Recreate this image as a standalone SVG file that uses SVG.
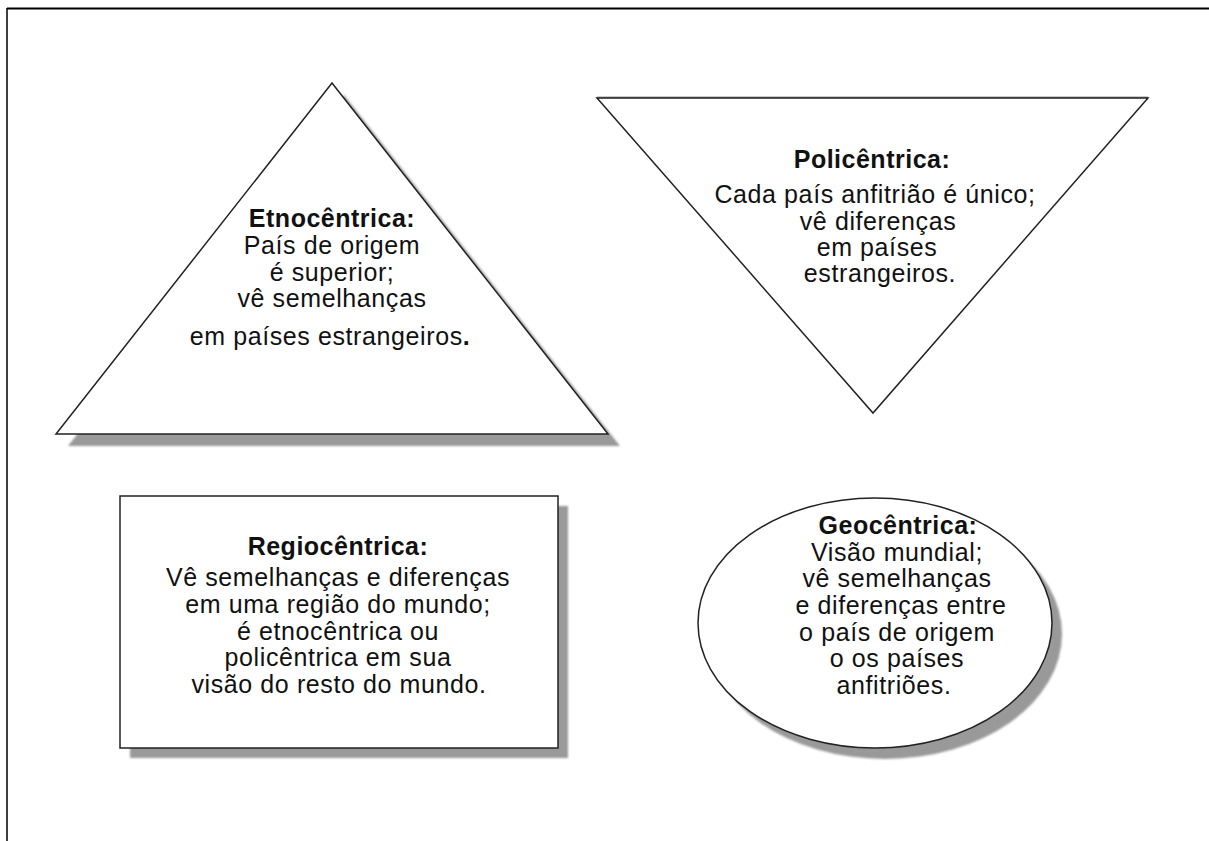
<svg xmlns="http://www.w3.org/2000/svg" width="1209" height="841" viewBox="0 0 1209 841">
  <style>
    .shape { fill: #fff; stroke: #222; stroke-width: 1.5; stroke-linejoin: miter; }
    .shadow { fill: #999; filter: url(#soft); }
    text { font-family: "Liberation Sans", Arial, sans-serif; font-size: 25px; letter-spacing: 0.6px; fill: #111; text-anchor: middle; }
    .title { font-weight: bold; letter-spacing: 0.5px; }
  </style>
  <defs>
    <filter id="soft" x="-5%" y="-5%" width="110%" height="110%">
      <feGaussianBlur stdDeviation="1"/>
    </filter>
  </defs>

  <rect width="1209" height="841" fill="#fff"/>

  <!-- page frame (top and left rules) -->
  <g id="frame" fill="none" stroke="#000">
    <line x1="7" y1="8.5" x2="1209" y2="8.5" stroke-width="2"/>
    <line x1="7" y1="8" x2="7" y2="841" stroke-width="1.5"/>
  </g>

  <!-- Etnocêntrica: upright triangle -->
  <g id="etnocentrica">
    <polygon class="shadow" points="344,95 620,446 68,446"/>
    <polygon class="shape" points="332,83 608,434 56,434"/>
    <text class="title" x="332" y="227">Etnocêntrica:</text>
    <text x="332" y="254">País de origem</text>
    <text x="332" y="281">é superior;</text>
    <text x="332" y="307">vê semelhanças</text>
    <text x="330" y="345">em países estrangeiros<tspan font-weight="bold">.</tspan></text>
  </g>

  <!-- Policêntrica: inverted triangle -->
  <g id="policentrica">
    <line x1="597" y1="98" x2="1148" y2="98" stroke="#999" stroke-width="3"/>
    <polygon class="shape" points="597,98 1148,98 873,413" stroke="#444"/>
    <text class="title" x="872" y="168">Policêntrica:</text>
    <text x="875" y="203">Cada país anfitrião é único;</text>
    <text x="878" y="230">vê diferenças</text>
    <text x="877" y="256">em países</text>
    <text x="880" y="282">estrangeiros.</text>
  </g>

  <!-- Regiocêntrica: rectangle -->
  <g id="regiocentrica">
    <rect class="shadow" x="130" y="506" width="438" height="252"/>
    <rect class="shape" x="120" y="496" width="438" height="252"/>
    <text class="title" x="338" y="555">Regiocêntrica:</text>
    <text x="338" y="586">Vê semelhanças e diferenças</text>
    <text x="338" y="613">em uma região do mundo;</text>
    <text x="338" y="640">é etnocêntrica ou</text>
    <text x="338" y="666">policêntrica em sua</text>
    <text x="339" y="693">visão do resto do mundo.</text>
  </g>

  <!-- Geocêntrica: ellipse -->
  <g id="geocentrica">
    <ellipse class="shadow" cx="885" cy="634" rx="177" ry="125"/>
    <ellipse class="shape" cx="875" cy="623" rx="177" ry="125"/>
    <text class="title" x="898" y="534">Geocêntrica:</text>
    <text x="897" y="561">Visão mundial;</text>
    <text x="897" y="587">vê semelhanças</text>
    <text x="901" y="614">e diferenças entre</text>
    <text x="897" y="641">o país de origem</text>
    <text x="897" y="667">o os países</text>
    <text x="894" y="694">anfitriões.</text>
  </g>

  <g id="connectors"/>
</svg>
